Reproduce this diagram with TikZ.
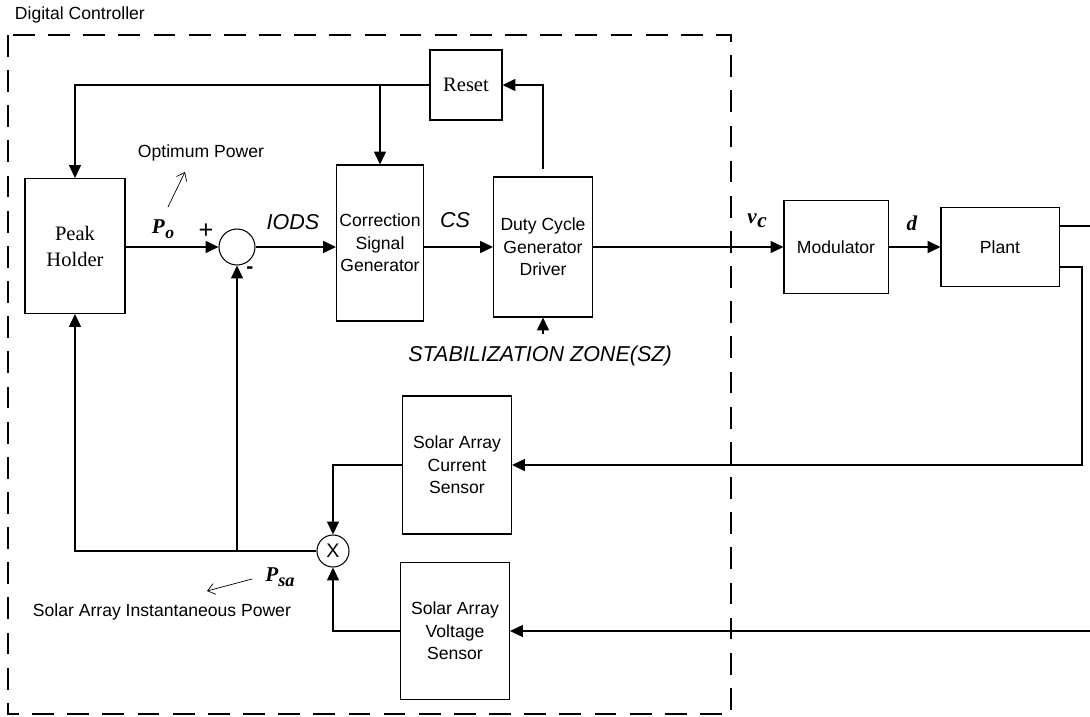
\documentclass[tikz,border=0pt]{standalone}
\usepackage{fontspec}
\setmainfont{Liberation Serif}
\newfontfamily\arial{Liberation Sans}
\usetikzlibrary{arrows.meta}
\tikzset{
  box/.style={
    draw, line width=0.75pt, inner sep=0pt,
    align=center, font=\arial\fontsize{12.5}{16}\selectfont
  },
  serifbox/.style={box, font=\fontsize{14.6}{18.5}\selectfont},
  junction/.style={draw, circle, line width=0.75pt, inner sep=0pt},
  arrow/.style={-{Triangle[length=3.2mm,width=3mm]}, line width=0.75pt},
  wire/.style={line width=0.75pt},
  thinarr/.style={-{Straight Barb[length=1.8mm,width=2.8mm]}, line width=0.5pt},
  sig/.style={font=\arial\itshape\fontsize{15.3}{18}\selectfont},
  var/.style={font=\bfseries\itshape\fontsize{15}{18}\selectfont},
  note/.style={font=\arial\fontsize{12.5}{15}\selectfont}
}

\begin{document}
\begin{tikzpicture}[x=0.025cm, y=-0.025cm]
  \useasboundingbox (0,0) rectangle (1090,716);
  % controller frame
  \node[note, anchor=west] (dctl) at (10,15) {Digital Controller};
  \draw[wire, dash pattern=on 15.5pt off 9.5pt] (8,35) rectangle (731,714);

  % blocks
  \node[serifbox, minimum width=2.5cm, minimum height=3.375cm] (peak) at (75,246) {Peak\\Holder};
  \node[serifbox, minimum width=1.8cm, minimum height=1.75cm] (reset) at (466,85) {Reset};
  \node[box, minimum width=2.175cm, minimum height=3.9cm] (csg) at (380,243) {Correction\\Signal\\Generator};
  \node[box, minimum width=2.475cm, minimum height=3.5cm] (dcgd) at (543,247) {Duty Cycle\\Generator\\Driver};
  \node[box, minimum width=2.6cm, minimum height=2.325cm] (mod) at (836,247) {Modulator};
  \node[box, minimum width=2.95cm, minimum height=1.975cm] (plant) at (1000,247) {Plant};
  \node[box, minimum width=2.725cm, minimum height=3.45cm] (cur) at (457,465) {Solar Array\\Current\\Sensor};
  \node[box, minimum width=2.725cm, minimum height=3.425cm] (volt) at (455,631) {Solar Array\\Voltage\\Sensor};
  \node[junction, minimum size=0.9cm] (sum) at (237,247) {};
  \node[junction, minimum size=0.8cm, font=\arial\fontsize{14}{14}\selectfont] (mul) at (333,551) {X};

  % labels
  \node[note, anchor=west] (opt) at (133,153) {Optimum Power};
  \node[var] (po) at (163,229) {P\kern0.5pt\raisebox{-0.45ex}{\fontsize{12.5}{12.5}\selectfont o}};
  \node[font=\arial\fontsize{18}{18}\selectfont] (plus) at (206,231) {+};
  \node[font=\arial\bfseries\fontsize{15}{15}\selectfont] (minus) at (250,270) {-};
  \node[sig] (iods) at (293,222) {IODS};
  \node[sig] (cs) at (455,220) {CS};
  \node[sig] (sz) at (540,356) {STABILIZATION ZONE(SZ)};
  \node[var] (vc) at (757,221) {v\kern0.5pt\raisebox{-0.45ex}{c}};
  \node[var] (dd) at (912,223) {d};
  \node[var] (psa) at (280,577) {P\raisebox{-0.55ex}{\fontsize{13}{13}\selectfont sa}};
  \node[note, anchor=west] (sainst) at (28,612) {Solar Array Instantaneous Power};
  \coordinate (optfoot) at (168,207);
  \coordinate (psafoot) at (252,579);
  \coordinate (szin) at (543,334);
  \coordinate (yout) at (1090,226);
  \coordinate (pout) at (1082,267);
  \coordinate (vin) at (1090,632);

  % forward path
  \draw[arrow] (peak.east |- sum.west) -- (sum.west);
  \draw[arrow] (sum.east) -- (sum.east -| csg.west);
  \draw[arrow] (csg.east |- dcgd.west) -- (dcgd.west);
  \draw[arrow] (dcgd.east) -- (dcgd.east -| mod.west);
  \draw[arrow] (mod.east |- plant.west) -- (plant.west);
  \draw[wire] (plant.east |- yout) -- (yout);
  \draw[arrow] (szin) -- (dcgd.south);

  % reset loop
  \draw[arrow, shorten <=0.175cm] (dcgd.north) |- (reset.east);
  \draw[arrow] (reset.west) -| (peak.north);
  \draw[arrow] (reset.west -| csg.north) -- (csg.north);

  % sensing
  \draw[arrow] (plant.east |- pout) -- (pout) |- (cur.east);
  \draw[arrow] (vin |- volt.east) -- (volt.east);
  \draw[arrow] (cur.west) -| (mul.north);
  \draw[arrow] (volt.west) -| (mul.south);
  \draw[arrow] (mul.west) -| (peak.south);
  \draw[arrow] (sum.south |- mul.west) -- (sum.south);

  % notes
  \draw[thinarr] (optfoot) -- (185,172);
  \draw[thinarr] (psafoot) -- (207,591);
\end{tikzpicture}
\end{document}
